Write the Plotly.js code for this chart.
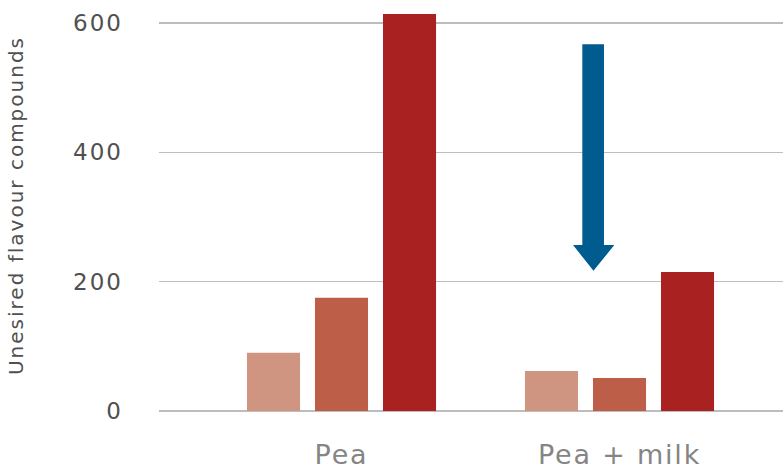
<!DOCTYPE html>
<html>
<head>
<meta charset="utf-8">
<script src="https://cdn.plot.ly/plotly-3.0.1.min.js"></script>
<style>
  html, body { margin: 0; padding: 0; background: #ffffff; }
  #chart { width: 783px; height: 473px; }
  .ytick text { letter-spacing: 2px; }
  .xtick text { letter-spacing: 1.8px; }
  .ytitle { letter-spacing: 2px; }
</style>
</head>
<body>
<div id="chart"></div>
<script>
const categories = ['Pea', 'Pea + milk'];
const seriesNames = ['Series 1', 'Series 2', 'Series 3'];
const series1 = [90, 62];
const series2 = [175, 51];
const series3 = [614, 215];
const tickValues = [0, 200, 400, 600];
const tickLabels = ['0', '200', '400', '600'];
const yTitle = 'Unesired flavour compounds';

const colors = ['#CF9580', '#BD5E48', '#AA2121'];
const allSeries = [series1, series2, series3];

const traces = allSeries.map((vals, i) => ({
  type: 'bar',
  name: seriesNames[i],
  x: categories,
  y: vals,
  marker: { color: colors[i], line: { width: 0 } },
  hoverinfo: 'x+y'
}));

const layout = {
  width: 783,
  height: 473,
  margin: { l: 159, r: 0, t: 0, b: 62, pad: 0 },
  paper_bgcolor: '#ffffff',
  plot_bgcolor: '#ffffff',
  showlegend: false,
  barmode: 'group',
  bargap: 0.266,
  bargroupgap: 0.22,
  font: { family: '"DejaVu Sans", sans-serif', color: '#555555' },
  xaxis: {
    type: 'category',
    range: [-0.6565, 1.5881],
    showgrid: false,
    showline: false,
    zeroline: false,
    ticks: '',
    ticklabelstandoff: 25,
    tickfont: { size: 27, color: '#858585', family: '"DejaVu Sans", sans-serif' },
    fixedrange: true
  },
  yaxis: {
    range: [0, 635.5],
    tickvals: tickValues,
    ticktext: tickLabels,
    showgrid: true,
    gridcolor: '#bdbdbd',
    gridwidth: 1.6,
    zeroline: true,
    zerolinecolor: '#bdbdbd',
    zerolinewidth: 1.6,
    showline: false,
    ticks: '',
    ticklabelstandoff: 35,
    tickfont: { size: 23, color: '#505050', family: '"DejaVu Sans", sans-serif' },
    title: {
      text: yTitle,
      font: { size: 20, color: '#505050', family: '"DejaVu Sans", sans-serif' },
      standoff: 44
    },
    fixedrange: true
  },
  shapes: [{
    type: 'path',
    xref: 'paper',
    yref: 'y',
    path: 'M 0.6784 567 L 0.7131 567 L 0.7131 256.6 L 0.7297 256.6 L 0.6963 216.8 L 0.6635 256.6 L 0.6784 256.6 Z',
    fillcolor: '#005B8F',
    line: { width: 0 },
    layer: 'above'
  }]
};

Plotly.newPlot('chart', traces, layout, { displayModeBar: false, staticPlot: true });
</script>
</body>
</html>
